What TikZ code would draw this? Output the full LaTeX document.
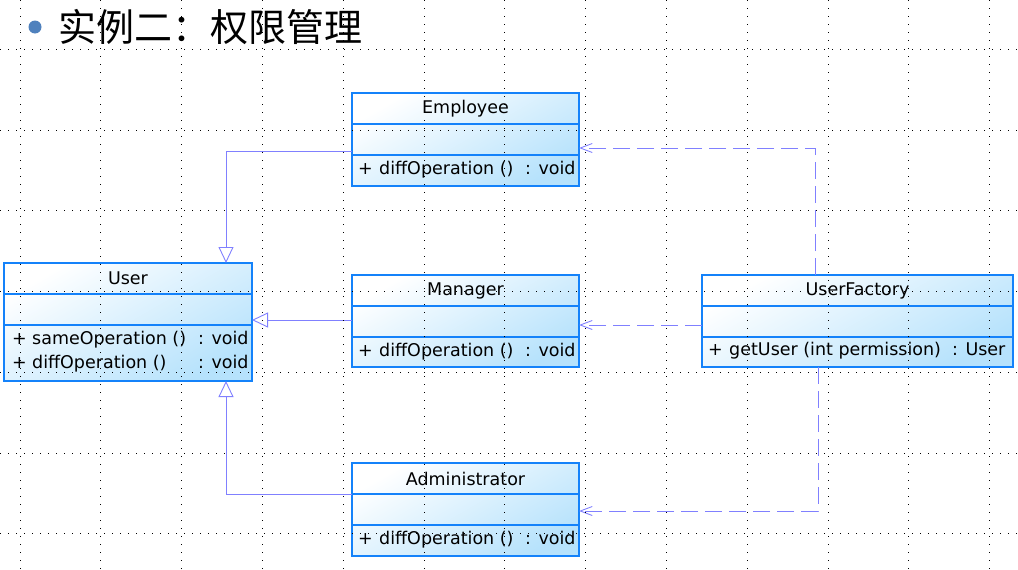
\documentclass[tikz,border=0pt]{standalone}
\usepackage{fontspec}
\setmainfont{DejaVu Sans}
\newfontfamily\cjk{Noto Sans CJK SC}
\usetikzlibrary{arrows.meta, positioning}

\definecolor{clsborder}{RGB}{20,130,250}
\definecolor{clsfill}{RGB}{182,226,252}
\definecolor{linkblue}{RGB}{128,128,255}
\definecolor{bulletblue}{RGB}{79,129,189}

\begin{document}
\begin{tikzpicture}[x=1pt, y=-1pt, font=\fontsize{17.5}{21}\selectfont,
  classbox/.style={draw=clsborder, line width=1.2pt, top color=white, bottom color=clsfill,
    shading angle=30, inner sep=0pt, outer sep=0pt},
  divider/.style={draw=clsborder, line width=1.2pt},
  clsname/.style={inner sep=0pt},
  opline/.style={anchor=west, inner sep=0pt},
  inherit/.style={draw=linkblue, line width=0.9pt, -{Triangle[open, length=16pt, width=15pt]}},
  depend/.style={draw=linkblue, line width=0.9pt, dash pattern=on 17pt off 7pt,
    -{Straight Barb[length=12pt, width=9pt]}},
  gridline/.style={line width=1pt, dash pattern=on 1pt off 7pt}]

  \useasboundingbox[fill=white] (0,0) rectangle (1018,570);

  % title
  \fill[bulletblue] (35,27) circle (6.5);
  \node[anchor=west, inner sep=0pt, font=\cjk\fontsize{38}{40}\selectfont] (title) at (58,27) {实例二：权限管理};

  % classes
  \node[classbox, minimum width=227pt, minimum height=93pt] (emp) at (465.5,139.5) {};
  \node[classbox, minimum width=248pt, minimum height=118pt] (user) at (128,322) {};
  \node[classbox, minimum width=227pt, minimum height=92pt] (mgr) at (465.5,321) {};
  \node[classbox, minimum width=311pt, minimum height=92pt] (fac) at (857.5,321) {};
  \node[classbox, minimum width=227pt, minimum height=93pt] (adm) at (465.5,509.5) {};

  \foreach \cls in {emp, user, mgr, fac, adm} {
    \draw[divider] ([yshift=-31pt]\cls.north west) -- ([yshift=-31pt]\cls.north east);
    \draw[divider] ([yshift=-62pt]\cls.north west) -- ([yshift=-62pt]\cls.north east);
  }

  \node[clsname] (empname) at ([yshift=-15.5pt]emp.north) {Employee};
  \node[clsname] (username) at ([yshift=-15.5pt]user.north) {User};
  \node[clsname] (mgrname) at ([yshift=-15.5pt]mgr.north) {Manager};
  \node[clsname] (facname) at ([yshift=-15.5pt]fac.north) {UserFactory};
  \node[clsname] (admname) at ([yshift=-15.5pt]adm.north) {Administrator};

  % operations
  \node[opline] (empop) at ([xshift=6pt, yshift=-77pt]emp.north west)
    {\makebox[21pt][l]{+}\makebox[146pt][l]{diffOperation ()}: void};
  \node[opline] (mgrop) at ([xshift=6pt, yshift=-77pt]mgr.north west)
    {\makebox[21pt][l]{+}\makebox[146pt][l]{diffOperation ()}: void};
  \node[opline] (admop) at ([xshift=6pt, yshift=-77pt]adm.north west)
    {\makebox[21pt][l]{+}\makebox[146pt][l]{diffOperation ()}: void};
  \node[opline] (userop1) at ([xshift=8pt, yshift=-77pt]user.north west)
    {\makebox[20pt][l]{+}\makebox[166pt][l]{sameOperation ()}: void};
  \node[opline] (userop2) at ([xshift=8pt, yshift=-101pt]user.north west)
    {\makebox[20pt][l]{+}\makebox[166pt][l]{diffOperation ()}: void};
  \node[opline] (facop) at ([xshift=6pt, yshift=-76pt]fac.north west)
    {\makebox[21pt][l]{+}\makebox[223pt][l]{getUser (int permission)}: User};

  % generalization
  \draw[inherit] ([yshift=-11.5pt]emp.west) -| ([xshift=98pt]user.north);
  \draw[inherit] ([yshift=1pt]mgr.west) -- ([yshift=1pt]mgr.west -| user.east);
  \draw[inherit] ([yshift=15.5pt]adm.west) -| ([xshift=98pt]user.south);

  % dependencies
  \draw[depend] ([xshift=-42.5pt]fac.north) |- ([yshift=-8.5pt]emp.east);
  \draw[depend] ([yshift=-4pt]fac.west) -- ([yshift=-4pt]mgr.east);
  \draw[depend] ([xshift=-39.5pt]fac.south) |- ([yshift=-1.5pt]adm.east);

  % dotted grid
  \foreach \gx in {0,...,12}
    \draw[gridline] (20+80.8*\gx,0) -- (20+80.8*\gx,570);
  \foreach \gy in {0,...,6}
    \draw[gridline] (0,49.5+80.7*\gy) -- (1018,49.5+80.7*\gy);

\end{tikzpicture}
\end{document}
